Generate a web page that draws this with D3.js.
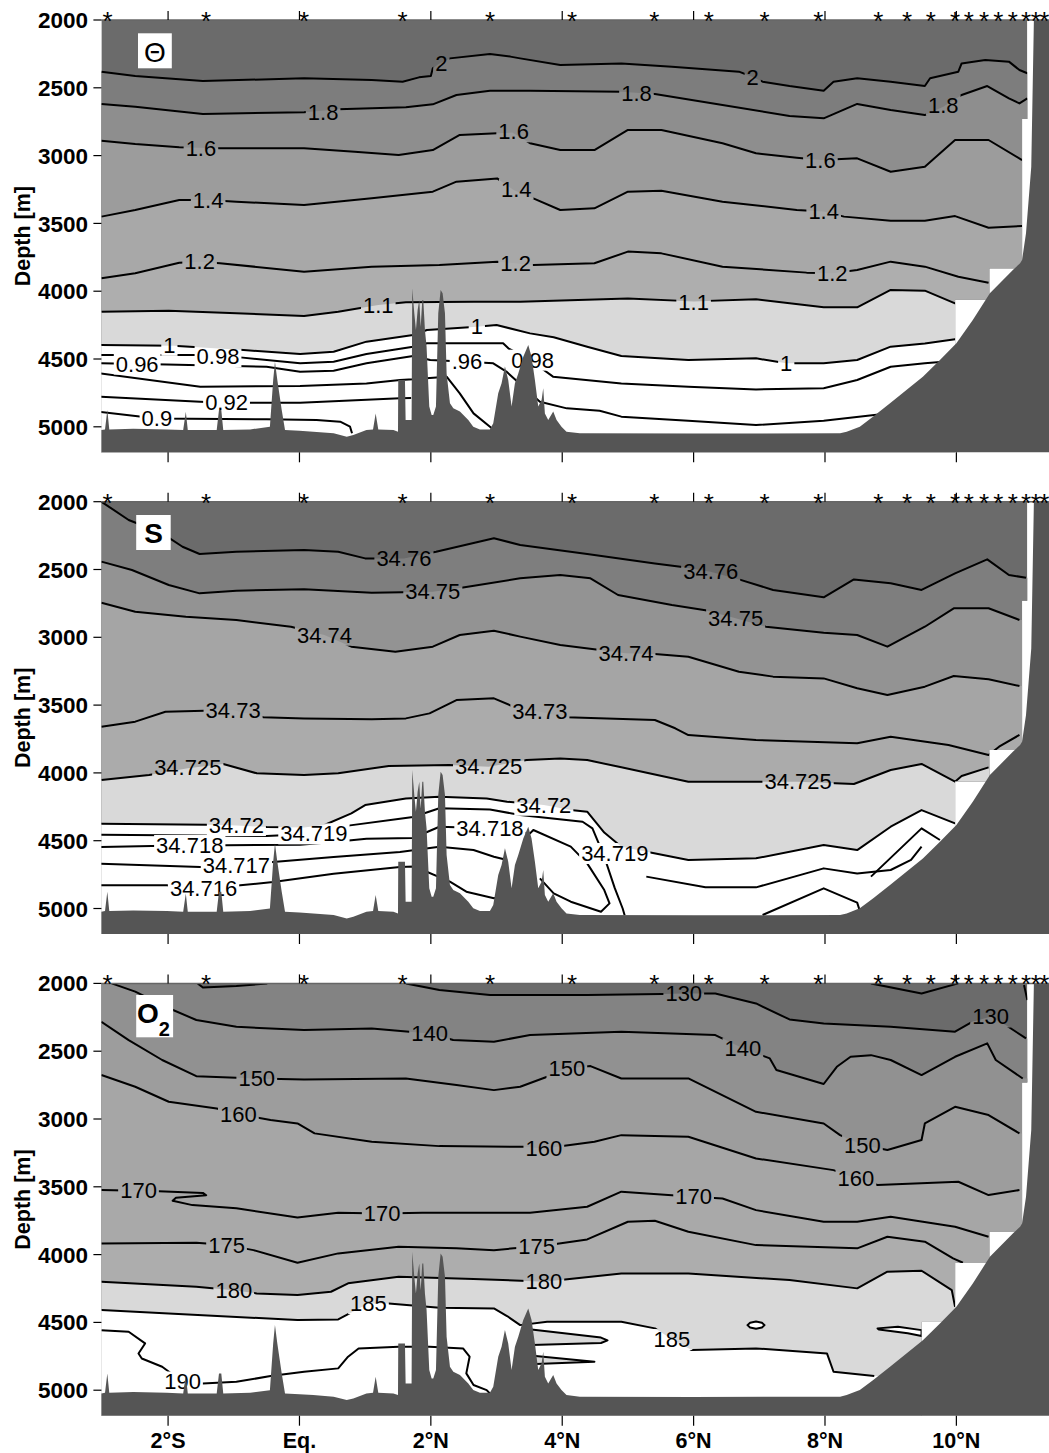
<!DOCTYPE html>
<html>
<head>
<meta charset="utf-8">
<script src="https://cdn.jsdelivr.net/npm/d3@7"></script>
<style>
  body { margin: 0; background: #fff; }
  svg { display: block; font-family: "Liberation Sans", Arial, sans-serif; }
</style>
</head>
<body>
<script>
// stations (stars on top axis) and axis ticks
const stationLats = [-2.92, -1.42, 0.07, 1.57, 2.90, 4.15, 5.40, 6.23, 7.08, 7.90, 8.81, 9.25, 9.61, 9.98, 10.19, 10.42, 10.64, 10.86, 11.06, 11.21, 11.34];
const latTicks = [-2, 0, 2, 4, 6, 8, 10];
const latTickLabels = ["2°S", "Eq.", "2°N", "4°N", "6°N", "8°N", "10°N"];
const depthTicks = [2000, 2500, 3000, 3500, 4000, 4500, 5000];

// bottom profile [lat, depth]
const bathymetry = [[-3.015,5024],[-2.96,5019],[-2.925,4876],[-2.895,5019],[-2.53,5014],[-2.02,5019],[-1.77,5024],[-1.73,4889],[-1.70,5024],[-1.26,5024],[-1.225,4876],[-1.19,4876],[-1.16,5024],[-0.75,5019],[-0.45,5000],[-0.40,4655],[-0.373,4520],[-0.337,4655],[-0.27,4876],[-0.22,5024],[0.0,5029],[0.21,5036],[0.52,5048],[0.72,5073],[0.82,5061],[1.02,5024],[1.12,5019],[1.16,4901],[1.20,5019],[1.43,5024],[1.50,5036],[1.504,4655],[1.606,4655],[1.616,4950],[1.707,4950],[1.717,3979],[1.748,4163],[1.773,4286],[1.799,4139],[1.824,4065],[1.845,4262],[1.87,4065],[1.885,4065],[1.91,4286],[1.935,4409],[1.976,4851],[2.012,4913],[2.037,4913],[2.078,4851],[2.113,4163],[2.149,3991],[2.179,4016],[2.215,4163],[2.24,4606],[2.291,4827],[2.342,4864],[2.443,4888],[2.57,4950],[2.646,4999],[2.747,5019],[2.899,5019],[2.95,4974],[3.026,4753],[3.077,4679],[3.128,4556],[3.178,4655],[3.229,4851],[3.28,4679],[3.331,4606],[3.407,4483],[3.483,4397],[3.533,4483],[3.584,4655],[3.635,4851],[3.686,4802],[3.711,4716],[3.736,4901],[3.787,4950],[3.863,4888],[3.914,4950],[3.989,4999],[4.065,5036],[4.268,5048],[6.0,5050],[8.23,5048],[8.33,5036],[8.53,4999],[8.73,4926],[8.99,4827],[9.24,4729],[9.49,4631],[9.75,4508],[10.0,4384],[10.25,4213],[10.51,4016],[10.86,3844],[10.97,3794],[11.0,3770],[11.06,3573],[11.14,3082],[11.18,2000]];

// right edge of gridded data
const dataEdge = [[11.08,2000],[11.08,2730],[11.0,2730],[11.0,3831],[10.5,3831],[10.5,4062],[9.98,4062]];
const dataEdgeO2 = [[11.08,2000],[11.08,2730],[11.0,2730],[11.0,3831],[10.5,3831],[10.5,4062],[9.98,4062],[9.98,4495],[9.47,4495]];

// potential temperature contours
const th2 = [[-3.015,2381],[-2.5,2413],[-1.47,2450],[0.07,2430],[1.1,2442],[1.57,2455],[1.82,2423],[2.0,2413],[2.03,2356],[2.13,2320],[2.29,2283],[2.9,2251],[3.21,2270],[3.36,2283],[3.97,2332],[4.9,2320],[5.67,2344],[6.69,2381],[6.9,2420],[7.05,2455],[7.46,2487],[7.98,2521],[8.13,2455],[8.49,2430],[9.0,2455],[9.52,2487],[9.6,2430],[10.03,2381],[10.08,2320],[10.44,2295],[10.8,2307],[10.96,2369],[11.08,2393]];
const th18 = [[-3.015,2619],[-2.5,2639],[-1.47,2693],[0.07,2680],[0.59,2659],[1.62,2644],[2.03,2622],[2.39,2553],[2.9,2521],[3.51,2521],[4.9,2529],[5.41,2546],[6.44,2627],[7.46,2708],[7.98,2725],[8.49,2619],[9.0,2664],[9.52,2701],[9.8,2640],[10.08,2553],[10.47,2487],[10.8,2578],[10.96,2615],[11.08,2578]];
const th16 = [[-3.015,2890],[-2.5,2915],[-1.83,2939],[-1.21,2946],[0.07,2946],[0.84,2971],[1.51,2996],[2.03,2959],[2.44,2848],[3.01,2836],[3.24,2830],[3.51,2909],[3.97,2959],[4.49,2959],[5.0,2811],[5.51,2811],[6.44,2909],[6.95,2983],[7.57,3015],[7.93,3033],[8.49,3020],[9.0,3119],[9.52,3082],[9.98,2885],[10.49,2885],[11.0,3033]];
const th14 = [[-3.015,3450],[-2.5,3401],[-1.83,3327],[-1.39,3327],[-0.96,3340],[0.07,3364],[1.1,3315],[2.03,3266],[2.39,3192],[3.01,3168],[3.26,3254],[3.56,3315],[3.97,3401],[4.49,3389],[5.0,3266],[5.51,3259],[6.44,3340],[7.57,3401],[7.98,3413],[8.29,3450],[9.0,3480],[9.52,3480],[9.98,3446],[10.49,3532],[11.0,3519]];
const th12 = [[-3.015,3905],[-2.5,3868],[-1.83,3790],[-1.52,3782],[-1.21,3794],[0.07,3856],[1.1,3819],[2.13,3807],[3.01,3782],[3.29,3794],[3.56,3807],[4.49,3794],[5.0,3708],[5.51,3721],[6.44,3819],[7.72,3863],[8.11,3868],[8.49,3844],[9.0,3782],[9.52,3819],[10.03,3893],[10.49,3937]];
const th11 = [[-3.015,4151],[-1.99,4144],[-0.96,4163],[0.07,4183],[0.59,4151],[1.2,4102],[1.62,4082],[2.65,4077],[3.36,4077],[5.0,4053],[6.0,4075],[6.95,4060],[7.98,4119],[8.49,4119],[9.0,3991],[9.52,3996],[9.98,4090],[10.2,4090]];
const th10 = [[-3.04,4397],[-1.92,4402],[-0.85,4434],[0.01,4463],[0.52,4446],[1.02,4372],[1.73,4323],[1.94,4286],[2.7,4262],[3.0,4249],[3.51,4311],[3.87,4340],[4.38,4409],[4.9,4478],[5.92,4507],[6.95,4495],[7.41,4532],[7.98,4532],[8.49,4507],[9.0,4409],[9.52,4385],[9.98,4355],[10.3,4340]];
const th098 = [[-3.04,4471],[-1.57,4471],[-0.9,4488],[0.01,4532],[0.52,4520],[1.02,4463],[1.73,4409],[1.94,4384],[3.1,4384],[3.18,4421],[3.51,4507],[3.86,4630],[4.9,4680],[5.92,4704],[6.95,4724],[7.98,4716],[8.49,4655],[9.0,4557],[9.52,4532],[9.8,4520]];
const th096 = [[-3.04,4532],[-2.02,4540],[-0.5,4557],[0.01,4594],[0.52,4586],[1.02,4532],[1.73,4478],[1.99,4507],[2.55,4520],[2.95,4532],[3.15,4593],[3.66,4815],[4.07,4864],[4.57,4881],[4.9,4925],[5.92,4955],[6.95,4987],[7.98,4955],[8.75,4913],[9.0,4900]];
const th094 = [[-3.04,4606],[-1.51,4704],[0.01,4699],[1.02,4680],[1.53,4655],[1.73,4650],[2.24,4630],[2.44,4753],[2.65,4901],[2.9,4999],[2.98,5030]];
const th092 = [[-3.04,4778],[-1.51,4815],[-1.11,4822],[0.01,4822],[1.53,4790],[1.7,4788]];
const th090 = [[-3.04,4889],[-2.17,4938],[-0.5,4945],[0.26,4950],[0.62,4962],[0.77,4999],[0.8,5048]];
const thetaLabels = [["2",2.16,2320],["2",6.9,2425],["1.8",0.36,2678],["1.8",5.13,2541],["1.8",9.8,2627],["1.6",-1.5,2946],["1.6",3.26,2823],["1.6",7.93,3033],["1.4",-1.39,3327],["1.4",3.3,3245],["1.4",7.98,3413],["1.2",-1.52,3782],["1.2",3.29,3794],["1.2",8.11,3868],["1.1",1.2,4102],["1.1",6.0,4080],["1",-1.98,4398],["1",2.7,4262],["1",7.41,4532],["0.98",-1.24,4480],["0.98",3.55,4507],["0.96",-2.47,4536],[".96",2.55,4520],["0.92",-1.11,4822],["0.9",-2.17,4938]];

// salinity contours
const s76 = [[-3.015,2000],[-2.6,2135],[-2.09,2233],[-1.78,2332],[-1.52,2386],[-0.96,2369],[0.07,2356],[0.59,2369],[1.0,2418],[1.59,2418],[2.08,2369],[2.96,2270],[3.36,2319],[4.38,2386],[5.41,2455],[5.8,2480],[6.26,2516],[6.69,2573],[7.21,2651],[7.98,2705],[8.44,2573],[9.0,2602],[9.47,2651],[9.98,2528],[10.47,2425],[10.8,2541],[11.06,2560]];
const s75 = [[-3.015,2442],[-2.55,2504],[-1.99,2614],[-1.52,2676],[-0.96,2656],[0.07,2646],[1.1,2671],[2.03,2664],[2.49,2632],[3.36,2565],[3.97,2541],[4.43,2565],[4.85,2688],[5.67,2762],[6.18,2800],[6.64,2860],[7.1,2922],[7.98,2966],[8.49,2983],[8.95,3069],[9.52,2922],[9.96,2786],[10.49,2786],[10.96,2872]];
const s74 = [[-3.015,2745],[-2.5,2811],[-1.73,2848],[-0.96,2872],[-0.13,2922],[0.38,2983],[0.79,3069],[1.46,3106],[2.03,3069],[2.44,2983],[2.96,2951],[3.36,2995],[3.97,3057],[4.97,3118],[5.41,3123],[5.92,3143],[6.69,3254],[7.21,3290],[7.98,3303],[8.49,3376],[8.95,3426],[9.52,3364],[9.96,3285],[10.49,3310],[10.96,3359]];
const s73 = [[-3.015,3659],[-2.5,3622],[-2.04,3549],[-1.01,3536],[-0.55,3590],[0.07,3598],[1.1,3605],[1.62,3598],[1.98,3561],[2.39,3463],[2.96,3450],[3.26,3512],[3.66,3549],[4.07,3590],[5.41,3610],[5.72,3671],[5.92,3721],[6.95,3757],[8.49,3782],[9.0,3733],[9.88,3794],[10.49,3868],[10.65,3807],[10.96,3720]];
const s725 = [[-3.015,4052],[-2.29,4016],[-1.7,3965],[-1.16,3934],[-0.65,4003],[0.07,4016],[0.59,4003],[1.36,3949],[2.28,3942],[2.88,3954],[3.46,3905],[3.97,3893],[4.38,3905],[4.9,3959],[5.92,4065],[6.95,4065],[7.59,4065],[8.44,4082],[9.0,3979],[9.47,3934],[9.98,4065],[10.08,4023],[10.49,3959]];
const s72 = [[-3.04,4375],[-1.41,4382],[-0.96,4387],[-0.5,4399],[0.07,4402],[0.38,4384],[0.79,4298],[1.0,4237],[1.62,4188],[2.13,4175],[2.85,4188],[3.16,4212],[3.72,4237],[4.13,4274],[4.38,4286],[4.64,4440],[4.9,4544],[5.92,4642],[6.95,4630],[7.98,4532],[8.49,4569],[9.0,4397],[9.47,4274],[9.98,4372],[10.2,4400]];
const s719 = [[-3.04,4456],[-0.5,4466],[0.22,4448],[0.77,4387],[1.53,4338],[1.73,4325],[2.13,4261],[2.9,4270],[3.36,4310],[4.31,4360],[4.46,4409],[4.64,4618],[4.8,4850],[4.92,5000],[4.95,5050]];
const s718 = [[-3.04,4547],[-1.67,4534],[-1.11,4534],[0.01,4529],[0.52,4510],[1.02,4485],[1.73,4480],[2.13,4397],[2.9,4409],[3.51,4446],[3.56,4421],[4.13,4544],[4.38,4667],[4.64,4864],[4.72,4962],[4.59,5024],[4.13,4950],[3.87,4888],[3.66,4778]];
const s717 = [[-3.04,4669],[-1.51,4694],[-0.96,4682],[-0.4,4657],[0.52,4620],[1.53,4583],[1.73,4571],[2.13,4544],[2.65,4569],[2.96,4618],[3.16,4642]];
const s716 = [[-3.04,4829],[-2.02,4829],[-1.46,4854],[-0.9,4829],[-0.4,4805],[0.52,4743],[1.53,4694],[1.75,4690],[2.29,4802],[2.54,4876],[2.96,4925],[3.26,4888]];
const sDeepA = [[5.28,4765],[6.18,4844],[6.95,4844],[7.98,4704],[8.49,4741],[9.0,4716],[9.31,4642],[9.47,4544]];
const sDeepB = [[7.05,5048],[7.98,4851],[8.49,4957],[8.55,5048]];
const sDeepC = [[8.7,4765],[9.47,4409],[9.75,4495]];
const salinityLabels = [["34.76",1.59,2418],["34.76",6.26,2516],["34.75",2.03,2664],["34.75",6.64,2860],["34.74",0.38,2983],["34.74",4.97,3118],["34.73",-1.01,3536],["34.73",3.66,3549],["34.725",-1.7,3959],["34.725",2.88,3954],["34.725",7.59,4065],["34.72",-0.96,4387],["34.72",3.72,4237],["34.719",0.22,4448],["34.719",4.8,4593],["34.718",-1.67,4534],["34.718",2.9,4409],["34.717",-0.96,4682],["34.716",-1.46,4854]];

// oxygen contours
const o130 = [[1.62,2000],[2.13,2049],[2.9,2086],[3.51,2086],[4.38,2086],[5.51,2079],[5.85,2074],[6.33,2074],[6.95,2148],[7.46,2266],[7.98,2295],[9.0,2320],[9.98,2356],[10.24,2283],[10.52,2246],[10.75,2307],[11.06,2406]];
const o130Cap = [[-1.55,2000],[-1.47,2030],[-0.96,2020],[-0.49,2000]];
const o130Dip = [[8.7,2000],[9.47,2074],[10.03,2000]];
const o130Edge = [[11.03,2012],[11.08,2123]];
const o140 = [[-2.86,2000],[-2.5,2061],[-2.04,2172],[-1.57,2270],[-0.96,2320],[0.07,2344],[1.1,2332],[1.98,2369],[2.34,2418],[2.96,2430],[3.51,2381],[4.9,2356],[6.33,2381],[6.75,2479],[7.16,2553],[7.26,2639],[7.98,2742],[8.18,2615],[8.39,2541],[8.7,2529],[9.0,2565],[9.47,2676],[9.98,2541],[10.47,2442],[10.6,2565],[11.01,2701]];
const o150 = [[-3.015,2283],[-2.6,2418],[-2.09,2565],[-1.57,2684],[-0.65,2701],[0.07,2708],[1.62,2701],[2.39,2750],[2.96,2787],[3.36,2762],[3.77,2688],[4.07,2627],[4.43,2610],[4.9,2701],[5.92,2701],[6.95,2947],[7.98,3033],[8.23,3119],[8.57,3192],[8.95,3229],[9.47,3155],[9.52,3033],[9.98,2910],[10.49,2971],[10.96,3106]];
const o160 = [[-3.015,2676],[-2.5,2762],[-1.99,2873],[-1.26,2922],[-0.93,2964],[-0.44,3008],[-0.03,3033],[0.23,3106],[1.1,3168],[2.13,3200],[3.42,3205],[3.72,3217],[4.49,3168],[4.9,3119],[5.92,3131],[6.95,3291],[8.13,3377],[8.47,3438],[8.8,3487],[10.03,3463],[10.49,3561],[10.96,3524]];
const o170 = [[-3.015,3524],[-2.45,3529],[-2.14,3532],[-1.47,3545],[-1.42,3562],[-1.88,3581],[-1.93,3603],[-1.63,3635],[-0.96,3659],[-0.03,3726],[0.59,3691],[1.26,3696],[1.87,3691],[3.51,3691],[4.38,3647],[4.9,3536],[6.0,3573],[6.44,3586],[6.95,3672],[7.98,3758],[8.49,3758],[9.0,3721],[9.98,3795],[10.49,3868]];
const o175 = [[-3.015,3918],[-1.57,3913],[-1.11,3930],[-0.7,3967],[-0.03,4060],[0.59,3991],[1.51,3942],[2.39,3954],[2.96,3967],[3.26,3954],[3.61,3942],[4.38,3888],[5.0,3758],[5.41,3750],[5.92,3832],[6.95,3930],[8.49,3954],[8.95,3868],[9.52,3905],[9.95,4028],[10.1,4060]];
const o180 = [[-3.015,4200],[-1.57,4237],[-1.0,4262],[-0.65,4286],[-0.03,4298],[0.48,4274],[0.74,4212],[1.51,4163],[2.65,4180],[3.37,4193],[3.72,4200],[4.9,4139],[5.92,4139],[7.46,4188],[8.49,4249],[8.95,4126],[9.47,4119],[9.93,4262],[9.98,4385]];
const o185 = [[-3.015,4409],[-1.99,4434],[-0.03,4483],[0.59,4478],[1.05,4360],[1.36,4360],[2.13,4392],[2.96,4397],[3.16,4453],[3.36,4520],[3.77,4495],[4.9,4495],[5.41,4544],[5.67,4625],[5.97,4704],[6.95,4692],[8.03,4729],[8.13,4864],[8.75,4896]];
const o190 = [[-3.015,4557],[-2.6,4569],[-2.35,4655],[-2.45,4729],[-2.4,4766],[-2.09,4827],[-1.78,4938],[-1.47,4950],[-0.96,4938],[-0.44,4896],[0.07,4864],[0.59,4839],[0.74,4753],[0.9,4692],[1.51,4680],[1.98,4680],[2.49,4692],[2.59,4753],[2.54,4876],[2.65,4962],[2.85,4999],[2.95,5050]];
const o185TongueA = [[3.4,4545],[4.59,4612],[4.69,4632],[4.59,4652],[3.4,4668]];
const o185TongueB = [[3.4,4738],[4.49,4790],[3.4,4810]];
const o185Loop = [[6.82,4520],[6.86,4502],[6.95,4494],[7.04,4502],[7.08,4520],[7.04,4538],[6.95,4546],[6.86,4538]];
const o185Sliver = [[8.8,4544],[9.11,4532],[9.47,4557],[9.47,4600],[9.26,4580],[8.82,4552]];
const oxygenLabels = [["130",5.85,2074],["130",10.52,2246],["140",1.98,2369],["140",6.75,2479],["150",-0.65,2701],["150",4.07,2627],["150",8.57,3192],["160",-0.93,2964],["160",3.72,3217],["160",8.47,3438],["170",-2.45,3529],["170",1.26,3696],["170",6.0,3573],["175",-1.11,3930],["175",3.61,3942],["180",-1.0,4262],["180",3.72,4200],["185",1.05,4360],["185",5.67,4625],["190",-1.78,4938]];

const W = 1049, H = 1453, PANEL_STEP = 481.7;
const x = d3.scaleLinear().domain([-3.015, 11.41]).range([101.4, 1049]);
const y = d3.scaleLinear().domain([2000, 5188]).range([20, 452.3]);
const [x0, x1] = x.domain();
const [y0, y1] = y.domain();
const lineGen = d3.line().x(d => x(d[0])).y(d => y(d[1]));

const LIGHT = "#d9d9d9";
const panels = [
  {
    title: "Θ", base: "#6b6b6b", edge: dataEdge,
    bands: [[th2, "#7d7d7d"], [th18, "#8e8e8e"], [th16, "#9c9c9c"], [th14, "#a8a8a8"], [th12, "#aeaeae"], [th11, LIGHT], [th10, "#ffffff"]],
    lines: [th2, th18, th16, th14, th12, th11, th10, th098, th096, th094, th092, th090],
    patches: [],
    labels: thetaLabels
  },
  {
    title: "S", base: "#6b6b6b", edge: dataEdge,
    bands: [[s76, "#7e7e7e"], [s75, "#939393"], [s74, "#a5a5a5"], [s73, "#ababab"], [s725, LIGHT], [s72, "#ffffff"]],
    lines: [s76, s75, s74, s73, s725, s72, s719, s718, s717, s716, sDeepA, sDeepB, sDeepC],
    patches: [],
    labels: salinityLabels
  },
  {
    title: "O", base: "#6b6b6b", edge: dataEdgeO2,
    bands: [[o130, "#838383"], [o140, "#919191"], [o150, "#9d9d9d"], [o160, "#a6a6a6"], [o170, "#a9a9a9"], [o175, "#adadad"], [o180, LIGHT], [o185, "#ffffff"]],
    lines: [o130, o130Dip, o130Edge, o140, o150, o160, o170, o175, o180, o185, o190],
    patches: [[o130Cap, "#6b6b6b"], [o185TongueA, LIGHT], [o185TongueB, LIGHT], [o185Loop, "#ffffff"], [o185Sliver, "#ffffff"]],
    labels: oxygenLabels
  }
];

// area below a contour, stretched sideways past the frame
function bandPath(pts) {
  const ext = [[x0 - 1, pts[0][1]], ...pts, [x1 + 1, pts[pts.length - 1][1]], [x1 + 1, y1 + 300], [x0 - 1, y1 + 300]];
  return lineGen(ext) + "Z";
}

const svg = d3.select("body").append("svg").attr("width", W).attr("height", H);
const defs = svg.append("defs");

panels.forEach((p, i) => {
  const g = svg.append("g").attr("transform", `translate(0,${i * PANEL_STEP})`);
  const edgePts = [[x0, y0], ...p.edge, [p.edge[p.edge.length - 1][0], y1], [x0, y1]];
  const edgeD = lineGen(edgePts) + "Z";

  defs.append("clipPath").attr("id", `data-${i}`).append("path").attr("d", edgeD);
  const mask = defs.append("mask").attr("id", `gap-${i}`)
    .attr("maskUnits", "userSpaceOnUse")
    .attr("x", 0).attr("y", -40).attr("width", W).attr("height", 540);
  mask.append("rect").attr("x", 0).attr("y", -40).attr("width", W).attr("height", 540).attr("fill", "#fff");

  // filled bands
  const fills = g.append("g").attr("clip-path", `url(#data-${i})`);
  fills.append("path").attr("d", edgeD).attr("fill", p.base);
  fills.selectAll(".band").data(p.bands).enter().append("path")
    .attr("class", "band")
    .attr("d", d => bandPath(d[0]))
    .attr("fill", d => d[1]);
  fills.selectAll(".patch").data(p.patches).enter().append("path")
    .attr("class", "patch")
    .attr("d", d => lineGen(d[0]) + "Z")
    .attr("fill", d => d[1]);

  // contour lines, broken where labels sit
  const lines = g.append("g").attr("clip-path", `url(#data-${i})`)
    .append("g").attr("mask", `url(#gap-${i})`)
    .attr("fill", "none").attr("stroke", "#000").attr("stroke-width", 2).attr("stroke-linejoin", "round");
  lines.selectAll(".c").data(p.lines).enter().append("path")
    .attr("class", "c")
    .attr("d", lineGen);
  lines.selectAll(".loop").data(p.patches).enter().append("path")
    .attr("class", "loop")
    .attr("d", d => lineGen(d[0]) + (d[0][0][1] === y0 ? "" : "Z"));

  const labels = g.append("g").attr("font-size", 22).attr("text-anchor", "middle");
  p.labels.forEach(l => {
    const t = labels.append("text")
      .attr("x", x(l[1])).attr("y", y(l[2])).attr("dy", "0.35em")
      .text(l[0]);
    const b = t.node().getBBox();
    mask.append("rect")
      .attr("x", b.x - 2).attr("y", b.y + 2)
      .attr("width", b.width + 4).attr("height", b.height - 4)
      .attr("fill", "#000");
  });

  // sea floor
  g.append("path")
    .attr("d", lineGen([...bathymetry, [x1, y0], [x1, y1], [x0, y1]]) + "Z")
    .attr("fill", "#555555");

  // top axis with stations
  g.append("line")
    .attr("x1", x(x0)).attr("x2", x(x1)).attr("y1", y(y0)).attr("y2", y(y0))
    .attr("stroke", "#666").attr("stroke-width", 1.5);
  g.selectAll(".ttick").data(latTicks).enter().append("line")
    .attr("x1", d => x(d)).attr("x2", d => x(d))
    .attr("y1", y(y0)).attr("y2", y(y0) - 9)
    .attr("stroke", "#000").attr("stroke-width", 1.2);
  g.selectAll(".btick").data(latTicks).enter().append("line")
    .attr("x1", d => x(d)).attr("x2", d => x(d))
    .attr("y1", y(y1)).attr("y2", y(y1) + 10)
    .attr("stroke", "#000").attr("stroke-width", 1.2);
  g.selectAll(".star").data(stationLats).enter().append("text")
    .attr("x", d => x(d)).attr("y", 30)
    .attr("text-anchor", "middle").attr("font-size", 26)
    .text("*");

  // depth axis
  g.selectAll(".ytick").data(depthTicks).enter().append("line")
    .attr("x1", x(x0) - 8).attr("x2", x(x0))
    .attr("y1", d => y(d)).attr("y2", d => y(d))
    .attr("stroke", "#000").attr("stroke-width", 1.2);
  g.selectAll(".ylab").data(depthTicks).enter().append("text")
    .attr("x", 88).attr("y", d => y(d)).attr("dy", "0.36em")
    .attr("text-anchor", "end").attr("font-size", 22.5).attr("font-weight", "bold")
    .text(d => d);
  g.append("text")
    .attr("transform", `translate(22,${(y(y0) + y(y1)) / 2}) rotate(-90)`)
    .attr("dy", "0.36em").attr("text-anchor", "middle")
    .attr("font-size", 21.5).attr("font-weight", "bold")
    .text("Depth [m]");

  // panel tag
  if (i === 0) {
    g.append("rect").attr("x", 138).attr("y", 33.3).attr("width", 33.8).attr("height", 35).attr("fill", "#fff");
    g.append("text").attr("x", 155).attr("y", 61.5).attr("text-anchor", "middle").attr("font-size", 28).text(p.title);
  } else if (i === 1) {
    g.append("rect").attr("x", 136.2).attr("y", 33.3).attr("width", 34.5).attr("height", 35).attr("fill", "#fff");
    g.append("text").attr("x", 153.5).attr("y", 61.5).attr("text-anchor", "middle").attr("font-size", 28).attr("font-weight", "bold").text(p.title);
  } else {
    g.append("rect").attr("x", 136.2).attr("y", 31.6).attr("width", 36.9).attr("height", 42.3).attr("fill", "#fff");
    const t = g.append("text").attr("x", 137).attr("y", 60).attr("font-size", 28).attr("font-weight", "bold");
    t.append("tspan").text(p.title);
    t.append("tspan").attr("font-size", 20).attr("dy", 13).text("2");
  }

  if (i === panels.length - 1) {
    g.selectAll(".xlab").data(latTicks).enter().append("text")
      .attr("x", d => x(d)).attr("y", y(y1) + 32.3)
      .attr("text-anchor", "middle").attr("font-size", 21.5).attr("font-weight", "bold")
      .text((d, k) => latTickLabels[k]);
  }
});
</script>
</body>
</html>
